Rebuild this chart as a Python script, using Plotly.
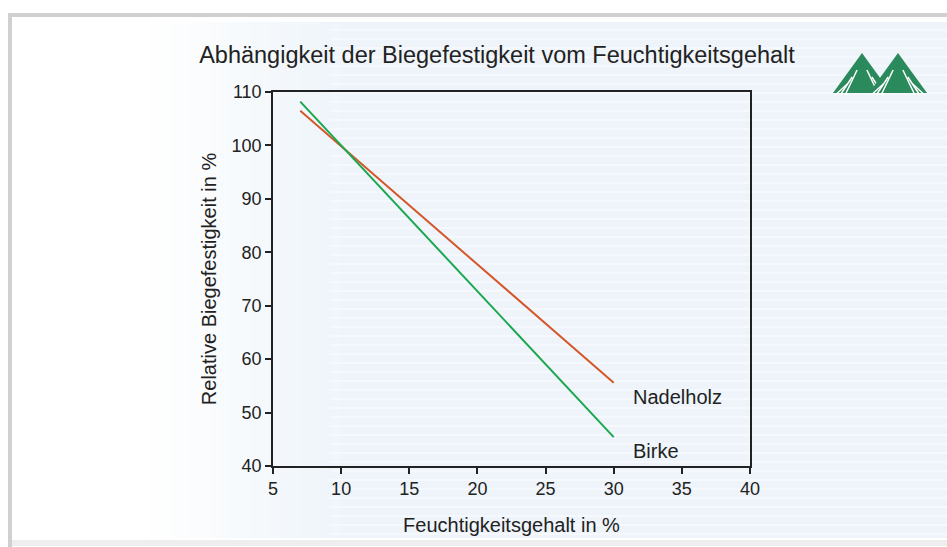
import plotly.graph_objects as go

# Data
moisture = [7, 30]
nadelholz = [106.5, 55.6]
birke = [108.2, 45.4]
series_names = ["Nadelholz", "Birke"]
label_x = 31.3
label_y = [52.9, 42.9]
x_ticks = [5, 10, 15, 20, 25, 30, 35, 40]
y_ticks = [40, 50, 60, 70, 80, 90, 100, 110]

W, H = 947, 547
L, R, T, B = 273, 197, 92, 81
pw, ph = W - L - R, H - T - B

def px(x):
    return (x - L) / pw

def py(y):
    return (H - B - y) / ph

fig = go.Figure()
fig.add_trace(go.Scatter(x=moisture, y=nadelholz, mode="lines", name=series_names[0],
                         line=dict(color="#d4572a", width=2)))
fig.add_trace(go.Scatter(x=moisture, y=birke, mode="lines", name=series_names[1],
                         line=dict(color="#1ba84f", width=2)))

shapes = []
# light blue background with a soft fade from the left
steps = 20
for i in range(steps):
    a = 150 + i * 10
    op = 0.6 * (i + 1) / steps
    shapes.append(dict(type="rect", xref="paper", yref="paper", x0=px(a), x1=px(a + 10), y0=py(538), y1=py(22),
                       fillcolor=f"rgba(226,237,246,{op:.3f})", line=dict(width=0), layer="below"))
shapes.append(dict(type="rect", xref="paper", yref="paper", x0=px(350), x1=px(947), y0=py(538), y1=py(22),
                   fillcolor="rgba(226,237,246,0.6)", line=dict(width=0), layer="below"))
# faint stripes
for yy in range(30, 538, 9):
    shapes.append(dict(type="line", xref="paper", yref="paper", x0=px(330), x1=px(947), y0=py(yy), y1=py(yy),
                       line=dict(color="rgba(255,255,255,0.4)", width=2), layer="below"))
# frame
shapes.append(dict(type="line", xref="paper", yref="paper", x0=px(8), x1=px(947), y0=py(15), y1=py(15),
                   line=dict(color="#d0d0d0", width=4)))
shapes.append(dict(type="line", xref="paper", yref="paper", x0=px(10), x1=px(10), y0=py(15), y1=py(547),
                   line=dict(color="#d0d0d0", width=4)))
shapes.append(dict(type="line", xref="paper", yref="paper", x0=px(12), x1=px(947), y0=py(543), y1=py(543),
                   line=dict(color="#eeeeee", width=6)))

# logo: two stylised trees
green = "#2a8a5c"
for ax_, x0_, x1_ in [(862, 833, 891), (898, 869, 927)]:
    top, base = 53, 93
    def P(x, y):
        return f"{px(x)} {py(y)}"
    path = f"M {P(ax_, top)} L {P(x1_, base)} L {P(x0_, base)} Z"
    shapes.append(dict(type="path", xref="paper", yref="paper", path=path,
                       fillcolor=green, line=dict(width=0)))
    # white stripes
    for k in range(1, 4):
        off = k * 7
        shapes.append(dict(type="line", xref="paper", yref="paper",
                           x0=px(ax_ - off * 0.7), y0=py(top + off * 1.0 + 10),
                           x1=px(ax_ - off * 0.7 - 12), y1=py(base + 2),
                           line=dict(color="white", width=1.5)))
        shapes.append(dict(type="line", xref="paper", yref="paper",
                           x0=px(ax_ + off * 0.7), y0=py(top + off * 1.0 + 10),
                           x1=px(ax_ + off * 0.7 + 12), y1=py(base + 2),
                           line=dict(color="white", width=1.5)))

annotations = []
for name, yv in zip(series_names, label_y):
    annotations.append(dict(x=label_x, y=yv, xref="x", yref="y", text=name, showarrow=False,
                            xanchor="left", yanchor="middle",
                            font=dict(size=20, color="#222222")))

fig.update_layout(
    width=W, height=H,
    margin=dict(l=L, r=R, t=T, b=B),
    paper_bgcolor="white",
    plot_bgcolor="rgba(0,0,0,0)",
    showlegend=False,
    font=dict(family="Liberation Sans, Arial, sans-serif", color="#222222"),
    title=dict(text="Abhängigkeit der Biegefestigkeit vom Feuchtigkeitsgehalt",
               x=px(497), xref="paper", xanchor="center",
               y=1 - 55 / H, yref="container", yanchor="middle",
               font=dict(size=23.5, color="#222222")),
    shapes=shapes,
    annotations=annotations,
)
fig.update_xaxes(range=[5, 40], tickvals=x_ticks, showgrid=False, zeroline=False,
                 showline=True, linecolor="#222222", linewidth=1.5, mirror=True,
                 ticks="outside", ticklen=6, tickcolor="#222222", tickwidth=1.5,
                 tickfont=dict(size=18),
                 title=dict(text="Feuchtigkeitsgehalt in %", font=dict(size=20), standoff=20))
fig.update_yaxes(range=[40, 110], tickvals=y_ticks, showgrid=False, zeroline=False,
                 showline=True, linecolor="#222222", linewidth=1.5, mirror=True,
                 ticks="outside", ticklen=6, tickcolor="#222222", tickwidth=1.5,
                 tickfont=dict(size=18),
                 title=dict(text="Relative Biegefestigkeit in %", font=dict(size=20), standoff=10))

fig.write_html("out.html", config={"displayModeBar": False},
               post_script="document.body.style.margin='0';document.body.style.overflow='hidden';")
